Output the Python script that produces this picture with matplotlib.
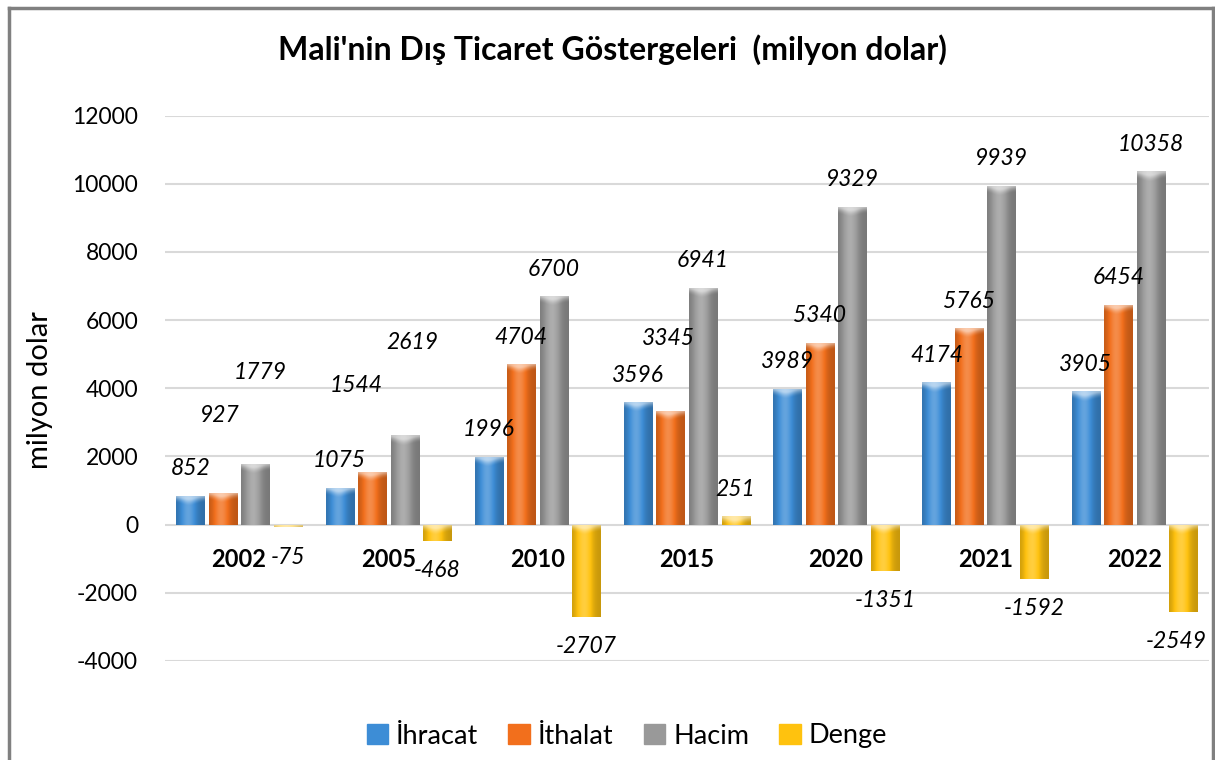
import numpy as np
import matplotlib.pyplot as plt
from matplotlib.lines import Line2D
from matplotlib.patches import Rectangle
from matplotlib.colors import to_rgb

plt.rcParams['font.family'] = ['Lato', 'DejaVu Sans']
plt.rcParams['axes.unicode_minus'] = False

### VERILER ###

yillar = ['2002', '2005', '2010', '2015', '2020', '2021', '2022']
ihracat = [852, 1075, 1996, 3596, 3989, 4174, 3905]
ithalat = [927, 1544, 4704, 3345, 5340, 5765, 6454]
hacim = [1779, 2619, 6700, 6941, 9329, 9939, 10358]
denge = [-75, -468, -2707, 251, -1351, -1592, -2549]
seriler = ['İhracat', 'İthalat', 'Hacim', 'Denge']

renkler = ['#3d8dd6', '#f26f1c', '#999999', '#ffc20e']

# excel'in yerinden oynattigi etiketler (piksel kaydirma)
kaydir = {(0, 1): (-3, 51), (0, 2): (5, 64), (1, 1): (-16, 59), (1, 2): (8, 66),
          (3, 1): (-2, 45), (6, 3): (-7, 0)}

adim = 0.218
genislik = 0.188


def renk_karistir(r, s):
	if s < 1:
		return r * s
	return r + (1 - r) * (s - 1)


def gradyan(ax, cubuk, renk):
	r = np.array(to_rgb(renk))
	t = np.linspace(0, 1, 64)
	s = 0.78 + 0.42 * np.exp(-((t - 0.42) / 0.28) ** 2)
	img = np.array([[renk_karistir(r, si) for si in s]])
	x0 = cubuk.get_x()
	x1 = x0 + cubuk.get_width()
	y0 = cubuk.get_y()
	y1 = y0 + cubuk.get_height()
	lo, hi = min(y0, y1), max(y0, y1)
	im = ax.imshow(img, extent=(x0, x1, lo, hi), aspect='auto', interpolation='bicubic', zorder=3)
	im.set_clip_path(cubuk)
	# ust kisimda acik renkli kapak
	kapak = np.zeros((16, 64, 4))
	kapak[:, :, :3] = 1.0
	yy = np.linspace(1, 0, 16)[:, None]
	xx = np.exp(-((t - 0.45) / 0.35) ** 2)[None, :]
	kapak[:, :, 3] = 0.55 * np.clip(yy * 1.6 - (1 - xx) * 0.6, 0, 1) ** 1.5
	h = 300
	im2 = ax.imshow(kapak, extent=(x0, x1, hi - h, hi), aspect='auto', interpolation='bicubic', zorder=4)
	im2.set_clip_path(cubuk)


fig = plt.figure(figsize=(12.15, 7.6), dpi=100)
ax = fig.add_axes([0.1354, 0.1303, 0.8597, 0.7177])

x = np.arange(len(yillar))
veriler = [ihracat, ithalat, hacim, denge]

for k in range(4):
	konum = x + (k - 1.5) * adim
	cubuklar = ax.bar(konum, veriler[k], genislik, color=renkler[k], zorder=2, linewidth=0)
	for c in cubuklar:
		gradyan(ax, c, renkler[k])
	for i in range(len(yillar)):
		v = veriler[k][i]
		dx, dy = kaydir.get((i, k), (0, 0))
		oy = 27 if v >= 0 else -30
		ax.annotate(str(v), (konum[i], v), xytext=(dx, oy + dy), textcoords='offset pixels',
		            ha='center', va='center', fontsize=16.5, fontstyle='italic', zorder=5)

for i in range(len(yillar)):
	ax.annotate(yillar[i], (x[i], 0), xytext=(0, -35), textcoords='offset pixels',
	            ha='center', va='center', fontsize=17, fontweight='bold', zorder=5)

ax.set_xlim(-0.5, 6.5)
ax.set_ylim(-4000, 12000)
ax.set_yticks(range(-4000, 12001, 2000))
ax.set_xticks([])
ax.tick_params(axis='y', length=0, pad=19, labelsize=16.5)
for s in ax.spines.values():
	s.set_visible(False)
ax.yaxis.grid(True, color='#d9d9d9', linewidth=1.5)
ax.set_axisbelow(True)

fig.text(0.504, 1 - 50 / 760, "Mali'nin Dış Ticaret Göstergeleri  (milyon dolar)",
         ha='center', va='center', fontsize=23, fontweight='bold')
fig.text(40 / 1215, 1 - 390 / 760, 'milyon dolar', rotation=90, ha='center', va='center', fontsize=21)

tutamaclar = [Rectangle((0, 0), 1, 1, color=r) for r in renkler]
fig.legend(tutamaclar, seriler, loc='center', bbox_to_anchor=(0.516, 1 - 736 / 760), ncol=4,
           frameon=False, fontsize=19.5, handlelength=0.8, handleheight=0.8,
           handletextpad=0.3, columnspacing=1.1)

# cerceve
kenar = '#808080'
fig.add_artist(Line2D([9 / 1215, 9 / 1215], [0, 1 - 8 / 760], color=kenar, lw=2.5))
fig.add_artist(Line2D([9 / 1215, 1213 / 1215], [1 - 8 / 760, 1 - 8 / 760], color=kenar, lw=2.5))
fig.add_artist(Line2D([1213 / 1215, 1213 / 1215], [0, 1 - 8 / 760], color=kenar, lw=2.5))

plt.savefig('out.png', dpi=100)
